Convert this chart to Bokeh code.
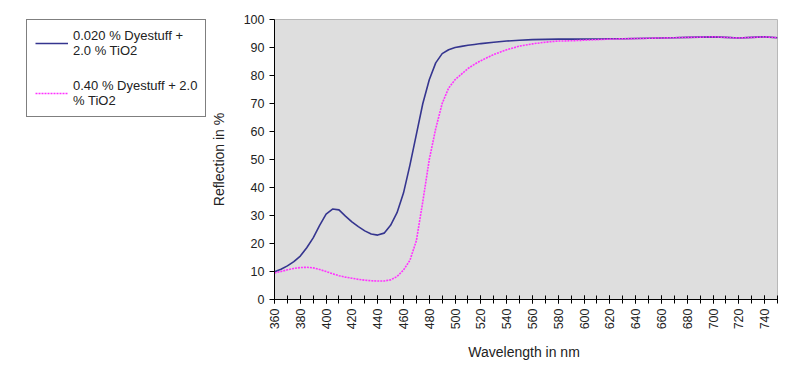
import math
from bokeh.plotting import figure
from bokeh.layouts import row
from bokeh.models import Legend, LegendItem, FixedTicker, ColumnDataSource
from bokeh.embed import file_html
from bokeh.resources import INLINE

wavelength = [360, 365, 370, 375, 380, 385, 390, 395, 400, 405, 410, 415, 420, 425, 430, 435,
              440, 445, 450, 455, 460, 465, 470, 475, 480, 485, 490, 495, 500, 505, 510, 515,
              520, 530, 540, 550, 560, 570, 580, 590, 600, 610, 620, 630, 640, 650, 660, 670,
              680, 690, 700, 710, 720, 730, 740, 750]

dye_0020 = [9.9, 10.8, 12.0, 13.5, 15.5, 18.5, 22.0, 26.5, 30.5, 32.3, 32.0, 29.8, 27.7, 26.0, 24.5, 23.4,
            23.0, 23.7, 26.5, 31.0, 38.0, 48.0, 59.0, 70.0, 78.5, 84.5, 87.8, 89.2, 90.0, 90.4, 90.8, 91.1,
            91.4, 91.9, 92.3, 92.6, 92.8, 92.9, 93.0, 93.0, 93.0, 93.0, 93.1, 93.1, 93.2, 93.3, 93.4, 93.5,
            93.6, 93.7, 93.8, 93.6, 93.4, 93.6, 93.8, 93.5]

dye_040 = [9.5, 10.0, 10.6, 11.1, 11.4, 11.5, 11.3, 10.7, 10.0, 9.2, 8.5, 8.0, 7.6, 7.2, 6.9, 6.7,
           6.6, 6.6, 7.0, 8.2, 10.5, 14.0, 21.0, 35.0, 50.0, 61.0, 70.0, 75.5, 78.5, 80.5, 82.5, 84.0,
           85.3, 87.5, 89.2, 90.5, 91.3, 91.9, 92.3, 92.4, 92.6, 92.8, 93.0, 93.1, 93.2, 93.3, 93.4, 93.5,
           93.6, 93.7, 93.8, 93.6, 93.4, 93.6, 93.8, 93.5]

x_labels = list(range(360, 741, 20))
x_minor = list(range(360, 751, 10))
y_ticks = list(range(0, 101, 10))

series_names = ["0.020 % Dyestuff +\n2.0 % TiO2", "0.40 % Dyestuff + 2.0\n% TiO2"]
series_colors = ["#35358f", "#ff33ff"]
series_dash = ["solid", "2 1"]

FONT = "Liberation Sans"

src = ColumnDataSource(dict(x=wavelength, a=dye_0020, b=dye_040))

# ---- main chart ----
p = figure(width=593, height=364, output_backend="svg", toolbar_location=None,
           x_range=(360, 750), y_range=(0, 100),
           min_border_left=65, min_border_right=23, min_border_top=19, min_border_bottom=65)

p.background_fill_color = "#dedede"
p.border_fill_color = "white"
p.outline_line_color = "#b8b8b8"
p.xgrid.visible = False
p.ygrid.visible = False

p.line("x", "a", source=src, line_color=series_colors[0], line_width=1.6, line_dash=series_dash[0])
p.line("x", "b", source=src, line_color=series_colors[1], line_width=1.6, line_dash=series_dash[1])

p.xaxis.ticker = FixedTicker(ticks=x_labels, minor_ticks=x_minor)
p.yaxis.ticker = FixedTicker(ticks=y_ticks)
for ax in (p.xaxis[0], p.yaxis[0]):
    ax.axis_line_color = "black"
    ax.major_tick_line_color = "black"
    ax.major_label_text_font = FONT
    ax.major_label_text_font_size = "12.5px"
    ax.major_label_text_color = "#222222"
    ax.axis_label_text_font = FONT
    ax.axis_label_text_font_size = "14px"
    ax.axis_label_text_font_style = "normal"
    ax.axis_label_text_color = "#222222"

p.xaxis.major_label_orientation = math.pi / 2
p.xaxis.major_tick_in = 4
p.xaxis.major_tick_out = 4
p.xaxis.minor_tick_in = 4
p.xaxis.minor_tick_out = 4
p.xaxis.minor_tick_line_color = "black"
p.xaxis.axis_label = "Wavelength  in nm"
p.xaxis.axis_label_standoff = 12

p.yaxis.major_tick_in = 0
p.yaxis.major_tick_out = 5
p.yaxis.minor_tick_line_color = None
p.yaxis.axis_label = "Reflection in %"
p.yaxis.axis_label_standoff = 14

# ---- legend panel (left) ----
# same series drawn here outside the visible range so only their legend glyphs show
lg = figure(width=207, height=364, output_backend="svg", toolbar_location=None,
            x_range=(0, 1), y_range=(0, 1), x_axis_type=None, y_axis_type=None,
            min_border_left=26, min_border_right=0, min_border_top=16, min_border_bottom=0)
lg.grid.visible = False
lg.outline_line_color = None
lg.background_fill_color = "white"
lg.border_fill_color = "white"

items = []
for name, col, dash, key in zip(series_names, series_colors, series_dash, ["a", "b"]):
    r = lg.line("x", key, source=src, line_color=col, line_width=1.6, line_dash=dash)
    items.append(LegendItem(label=name, renderers=[r]))

legend = Legend(items=items, location="top_left", orientation="vertical")
legend.border_line_color = "black"
legend.border_line_width = 1
legend.background_fill_color = "white"
legend.background_fill_alpha = 1
legend.label_text_font = FONT
legend.label_text_font_size = "13px"
legend.label_text_color = "#222222"
legend.glyph_width = 33
legend.label_standoff = 5
legend.padding = 8
legend.spacing = 20
legend.margin = 0
lg.add_layout(legend, "center")

layout = row(lg, p)
open("out.html", "w").write(file_html(layout, INLINE))
